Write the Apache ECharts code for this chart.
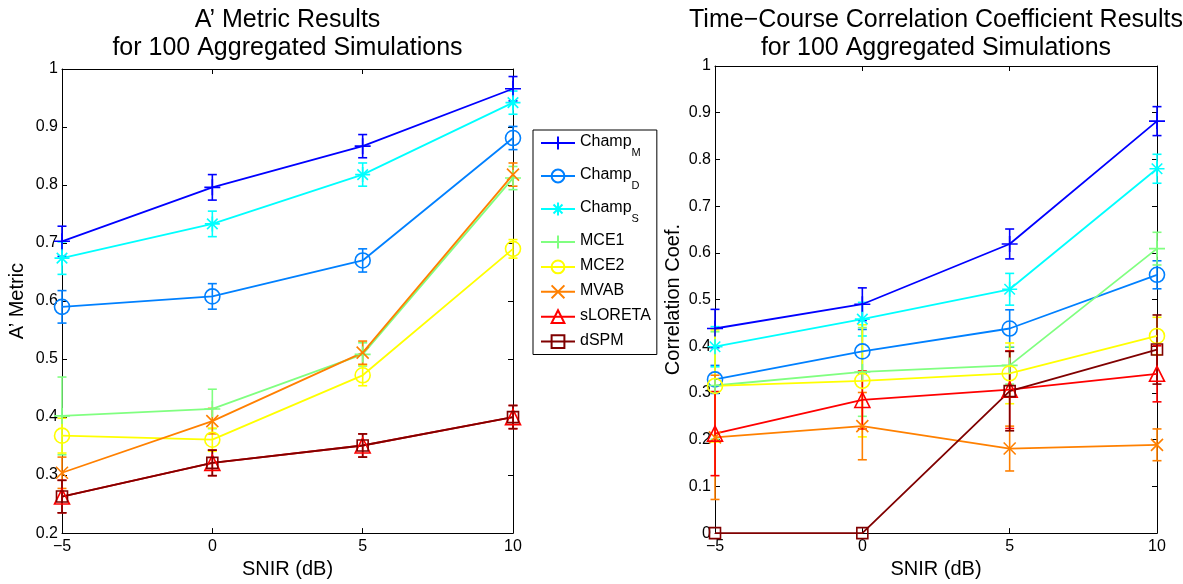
<!DOCTYPE html>
<html><head><meta charset="utf-8">
<script src="https://cdn.jsdelivr.net/npm/echarts@6/dist/echarts.min.js"></script>
<style>html,body{margin:0;padding:0;background:#fff}#c{width:1183px;height:584px}</style>
</head><body><div id="c"></div>
<script>
// ---------- data ----------
const snir = [-5, 0, 5, 10];
const methods = ['ChampM', 'ChampD', 'ChampS', 'MCE1', 'MCE2', 'MVAB', 'sLORETA', 'dSPM'];

// A' metric (left panel): means and error half-widths
const aChampM   = [0.703, 0.796, 0.867, 0.966];
const aChampD   = [0.590, 0.608, 0.670, 0.881];
const aChampS   = [0.674, 0.733, 0.818, 0.942];
const aMCE1     = [0.402, 0.414, 0.508, 0.812];
const aMCE2     = [0.368, 0.361, 0.472, 0.690];
const aMVAB     = [0.304, 0.393, 0.511, 0.818];
const aSLORETA  = [0.263, 0.321, 0.351, 0.400];
const aDSPM     = [0.263, 0.321, 0.351, 0.400];
const aErrChampM  = [0.026, 0.022, 0.020, 0.021];
const aErrChampD  = [0.028, 0.022, 0.020, 0.020];
const aErrChampS  = [0.028, 0.022, 0.020, 0.020];
const aErrMCE1    = [0.067, 0.034, 0.020, 0.020];
const aErrMCE2    = [0.030, 0.020, 0.018, 0.016];
const aErrMVAB    = [0.027, 0.022, 0.020, 0.020];
const aErrSLORETA = [0.028, 0.022, 0.020, 0.020];
const aErrDSPM    = [0.028, 0.022, 0.020, 0.020];

// Correlation coefficient (right panel)
const cChampM   = [0.438, 0.490, 0.619, 0.882];
const cChampD   = [0.329, 0.389, 0.438, 0.553];
const cChampS   = [0.399, 0.458, 0.522, 0.780];
const cMCE1     = [0.316, 0.345, 0.359, 0.609];
const cMCE2     = [0.315, 0.326, 0.342, 0.422];
const cMVAB     = [0.205, 0.229, 0.181, 0.189];
const cSLORETA  = [0.213, 0.285, 0.307, 0.341];
const cDSPM     = [0.000, 0.000, 0.304, 0.393];
const cErrChampM  = [0.041, 0.035, 0.032, 0.031];
const cErrChampD  = [0.030, 0.047, 0.040, 0.030];
const cErrChampS  = [0.043, 0.036, 0.034, 0.031];
const cErrMCE1    = [0.115, 0.095, 0.040, 0.035];
const cErrMCE2    = [0.120, 0.120, 0.065, 0.040];
const cErrMVAB    = [0.133, 0.072, 0.048, 0.034];
const cErrSLORETA = [0.090, 0.062, 0.083, 0.060];
const cErrDSPM    = [0.000, 0.000, 0.085, 0.074];

const titleLeft  = ['A\u2019 Metric Results', 'for 100 Aggregated Simulations'];
const titleRight = ['Time\u2212Course Correlation Coefficient Results', 'for 100 Aggregated Simulations'];
const xName = 'SNIR (dB)';
const yNameLeft = 'A\u2019 Metric';
const yNameRight = 'Correlation Coef.';

// ---------- styles ----------
const FONT = 'Liberation Sans, Arial, Helvetica, sans-serif';
const colors = ['#0000ff', '#0080ff', '#00ffff', '#80ff80', '#ffff00', '#ff8000', '#ff0000', '#800000'];
const SYM = {
  plus: 'path://M0,5L10,5M5,0L5,10',
  circle: 'path://M0,5A5,5,0,1,1,10,5A5,5,0,1,1,0,5Z',
  star: 'path://M0,5L10,5M5,0L5,10M1.5,1.5L8.5,8.5M1.5,8.5L8.5,1.5',
  cross: 'path://M0,0L10,10M0,10L10,0',
  tri: 'path://M5,0L10,9L0,9Z',
  square: 'path://M0,0L10,0L10,10L0,10Z'
};
const symbols = [SYM.plus, SYM.circle, SYM.star, SYM.plus, SYM.circle, SYM.cross, SYM.tri, SYM.square];
const symSizes = [16, 15, 15, 16, 15, 12, 15, 11];

const aVals = [aChampM, aChampD, aChampS, aMCE1, aMCE2, aMVAB, aSLORETA, aDSPM];
const aErrs = [aErrChampM, aErrChampD, aErrChampS, aErrMCE1, aErrMCE2, aErrMVAB, aErrSLORETA, aErrDSPM];
const cVals = [cChampM, cChampD, cChampS, cMCE1, cMCE2, cMVAB, cSLORETA, cDSPM];
const cErrs = [cErrChampM, cErrChampD, cErrChampS, cErrMCE1, cErrMCE2, cErrMVAB, cErrSLORETA, cErrDSPM];

function errSeries(name, vals, errs, color, xi, yi) {
  return {
    type: 'custom', name: name + '_err', xAxisIndex: xi, yAxisIndex: yi, silent: true,
    data: snir.map((x, i) => [x, vals[i], errs[i]]),
    encode: { x: 0, y: 1 },
    renderItem: function (params, api) {
      const x = api.value(0), y = api.value(1), e = api.value(2);
      if (!e) return { type: 'group', children: [] };
      const p = api.coord([x, y + e]), q = api.coord([x, y - e]);
      const w = 4.5, st = { stroke: color, lineWidth: 1.6 };
      return { type: 'group', children: [
        { type: 'line', shape: { x1: p[0], y1: p[1], x2: q[0], y2: q[1] }, style: st },
        { type: 'line', shape: { x1: p[0] - w, y1: p[1], x2: p[0] + w, y2: p[1] }, style: st },
        { type: 'line', shape: { x1: q[0] - w, y1: q[1], x2: q[0] + w, y2: q[1] }, style: st }
      ]};
    }
  };
}
function lineSeries(name, vals, k, xi, yi) {
  return {
    type: 'line', name: name, xAxisIndex: xi, yAxisIndex: yi,
    data: snir.map((x, i) => [x, vals[i]]),
    symbol: symbols[k], symbolSize: symSizes[k], showSymbol: true,
    lineStyle: { color: colors[k], width: 1.8 },
    itemStyle: { color: 'none', borderColor: colors[k], borderWidth: 1.6 },
    emphasis: { disabled: true }
  };
}
const series = [];
methods.forEach((m, k) => {
  series.push(errSeries(m, aVals[k], aErrs[k], colors[k], 0, 0));
  series.push(lineSeries(m, aVals[k], k, 0, 0));
});
methods.forEach((m, k) => {
  series.push(errSeries(m + 'R', cVals[k], cErrs[k], colors[k], 2, 2));
  series.push(lineSeries(m, cVals[k], k, 2, 2));
});

const axisCommon = {
  axisLine: { show: true, onZero: false, lineStyle: { color: '#000', width: 1 } },
  axisTick: { show: true, inside: true, length: 5, lineStyle: { color: '#000' } },
  splitLine: { show: false },
  axisLabel: { color: '#000', fontFamily: FONT, fontSize: 16, margin: 4 },
  nameTextStyle: { color: '#000', fontFamily: FONT, fontSize: 20 }
};
const fmtX = v => (v < 0 ? '\u2212' + (-v) : String(v));
function xAx(gi, pos, label) {
  return Object.assign({}, axisCommon, {
    type: 'value', gridIndex: gi, position: pos, min: -5, max: 10, interval: 5,
    axisLabel: Object.assign({}, axisCommon.axisLabel, { show: label, formatter: fmtX, margin: 5 }),
    name: label ? xName : '', nameLocation: 'middle', nameGap: 21
  });
}
function yAx(gi, pos, label, min, name, gap) {
  return Object.assign({}, axisCommon, {
    type: 'value', gridIndex: gi, position: pos, min: min, max: 1, interval: 0.1,
    axisLabel: Object.assign({}, axisCommon.axisLabel, { show: label }),
    name: label ? name : '', nameLocation: 'middle', nameGap: gap
  });
}

const legendNames = {
  ChampM: '{b|Champ}{s|M}', ChampD: '{b|Champ}{s|D}', ChampS: '{b|Champ}{s|S}',
  MCE1: '{b|MCE1}', MCE2: '{b|MCE2}', MVAB: '{b|MVAB}', sLORETA: '{b|sLORETA}', dSPM: '{b|dSPM}'
};

function titleText(x, lines) {
  return lines.map((t, i) => ({
    type: 'text', x: x, y: 20 + i * 28,
    style: { text: t, fill: '#000', font: '25px ' + FONT, textAlign: 'center', textVerticalAlign: 'middle' }
  }));
}

const chart = echarts.init(document.getElementById('c'), null, { renderer: 'canvas' });
chart.setOption({
  animation: false,
  backgroundColor: '#fff',
  grid: [
    { left: 62, top: 69, width: 451, height: 473 },
    { left: 715, top: 66, width: 442, height: 473 }
  ],
  xAxis: [xAx(0, 'bottom', true), xAx(0, 'top', false), xAx(1, 'bottom', true), xAx(1, 'top', false)],
  yAxis: [
    yAx(0, 'left', true, 0.2, yNameLeft, 35), yAx(0, 'right', false, 0.2, '', 0),
    yAx(1, 'left', true, 0, yNameRight, 32), yAx(1, 'right', false, 0, '', 0)
  ],
  legend: {
    data: methods, orient: 'vertical', left: 533, top: 130,
    itemWidth: 34, itemHeight: 16, itemGap: 7,
    padding: [4, 6, 4, 7], borderColor: '#000', borderWidth: 1, backgroundColor: '#fff',
    selectedMode: false,
    formatter: n => legendNames[n],
    textStyle: {
      color: '#000', fontFamily: FONT, fontSize: 16,
      rich: {
        b: { fontFamily: FONT, fontSize: 16, lineHeight: 18, verticalAlign: 'top', color: '#000' },
        s: { fontFamily: FONT, fontSize: 11, lineHeight: 11, padding: [13, 0, 2, 0], verticalAlign: 'top', color: '#000' }
      }
    }
  },
  graphic: titleText(287.5, titleLeft).concat(titleText(936, titleRight)),
  series: series
});
</script>
</body></html>
